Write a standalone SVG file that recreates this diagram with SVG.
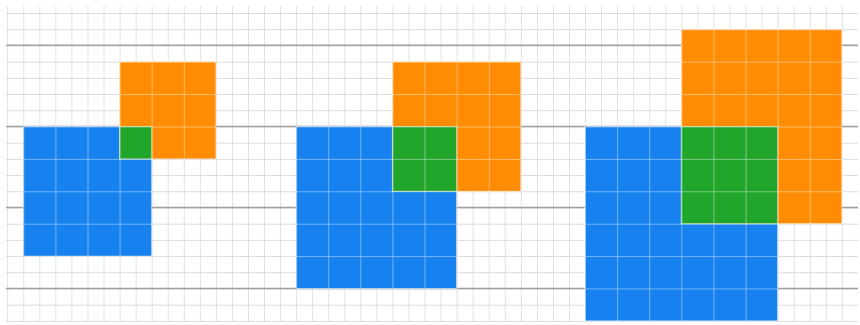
<svg xmlns="http://www.w3.org/2000/svg" width="860" height="325" viewBox="0 0 860 325">
<defs>
<style>
.fine{fill:url(#grid)}
.thick{stroke:#a0a0a0;stroke-width:1.5;fill:none}
.blue{fill:#1681ef}
.orange{fill:#ff8c02}
.green{fill:#22a52b}
.cells{fill:url(#cellgrid);stroke:rgba(255,255,255,0.5);stroke-width:1}
</style>
<pattern id="grid" patternUnits="userSpaceOnUse" x="23.3" y="126.5" width="16.05" height="16.2">
<path d="M0 0H16.05M0 0V16.2" stroke="#cfcfcf" stroke-width="1.2" fill="none"/>
</pattern>
<pattern id="cellgrid" patternUnits="userSpaceOnUse" x="0" y="0" width="32.1" height="32.4">
<path d="M0 0H32.1M0 0V32.4" stroke="rgba(255,255,255,0.55)" stroke-width="1.5" fill="none"/>
</pattern>
</defs>
<rect width="860" height="325" fill="#ffffff"/>
<g id="grid-lines">
<rect class="fine" x="6" y="6" width="852" height="316"/>
<path class="thick" d="M6 45.3H858M6 126.5H858M6 207.5H858M6 288.5H858"/>
</g>
<g id="panel1">
<g id="blue1" transform="translate(23.3,126.5)"><rect class="blue" width="128.4" height="129.6"/><rect class="cells" width="128.4" height="129.6"/></g>
<g id="orange1" transform="translate(119.6,61.7)"><rect class="orange" width="96.3" height="97.2"/><rect class="cells" width="96.3" height="97.2"/></g>
<g id="overlap1" transform="translate(119.6,126.5)"><rect class="green" width="32.1" height="32.4"/><rect class="cells" width="32.1" height="32.4"/></g>
</g>
<g id="panel2">
<g id="blue2" transform="translate(296.15,126.5)"><rect class="blue" width="160.5" height="162"/><rect class="cells" width="160.5" height="162"/></g>
<g id="orange2" transform="translate(392.45,61.7)"><rect class="orange" width="128.4" height="129.6"/><rect class="cells" width="128.4" height="129.6"/></g>
<g id="overlap2" transform="translate(392.45,126.5)"><rect class="green" width="64.2" height="64.8"/><rect class="cells" width="64.2" height="64.8"/></g>
</g>
<g id="panel3">
<g id="blue3" transform="translate(585.05,126.5)"><rect class="blue" width="192.6" height="194.4"/><rect class="cells" width="192.6" height="194.4"/></g>
<g id="orange3" transform="translate(681.35,29.3)"><rect class="orange" width="160.5" height="194.4"/><rect class="cells" width="160.5" height="194.4"/></g>
<g id="overlap3" transform="translate(681.35,126.5)"><rect class="green" width="96.3" height="97.2"/><rect class="cells" width="96.3" height="97.2"/></g>
</g>
</svg>
